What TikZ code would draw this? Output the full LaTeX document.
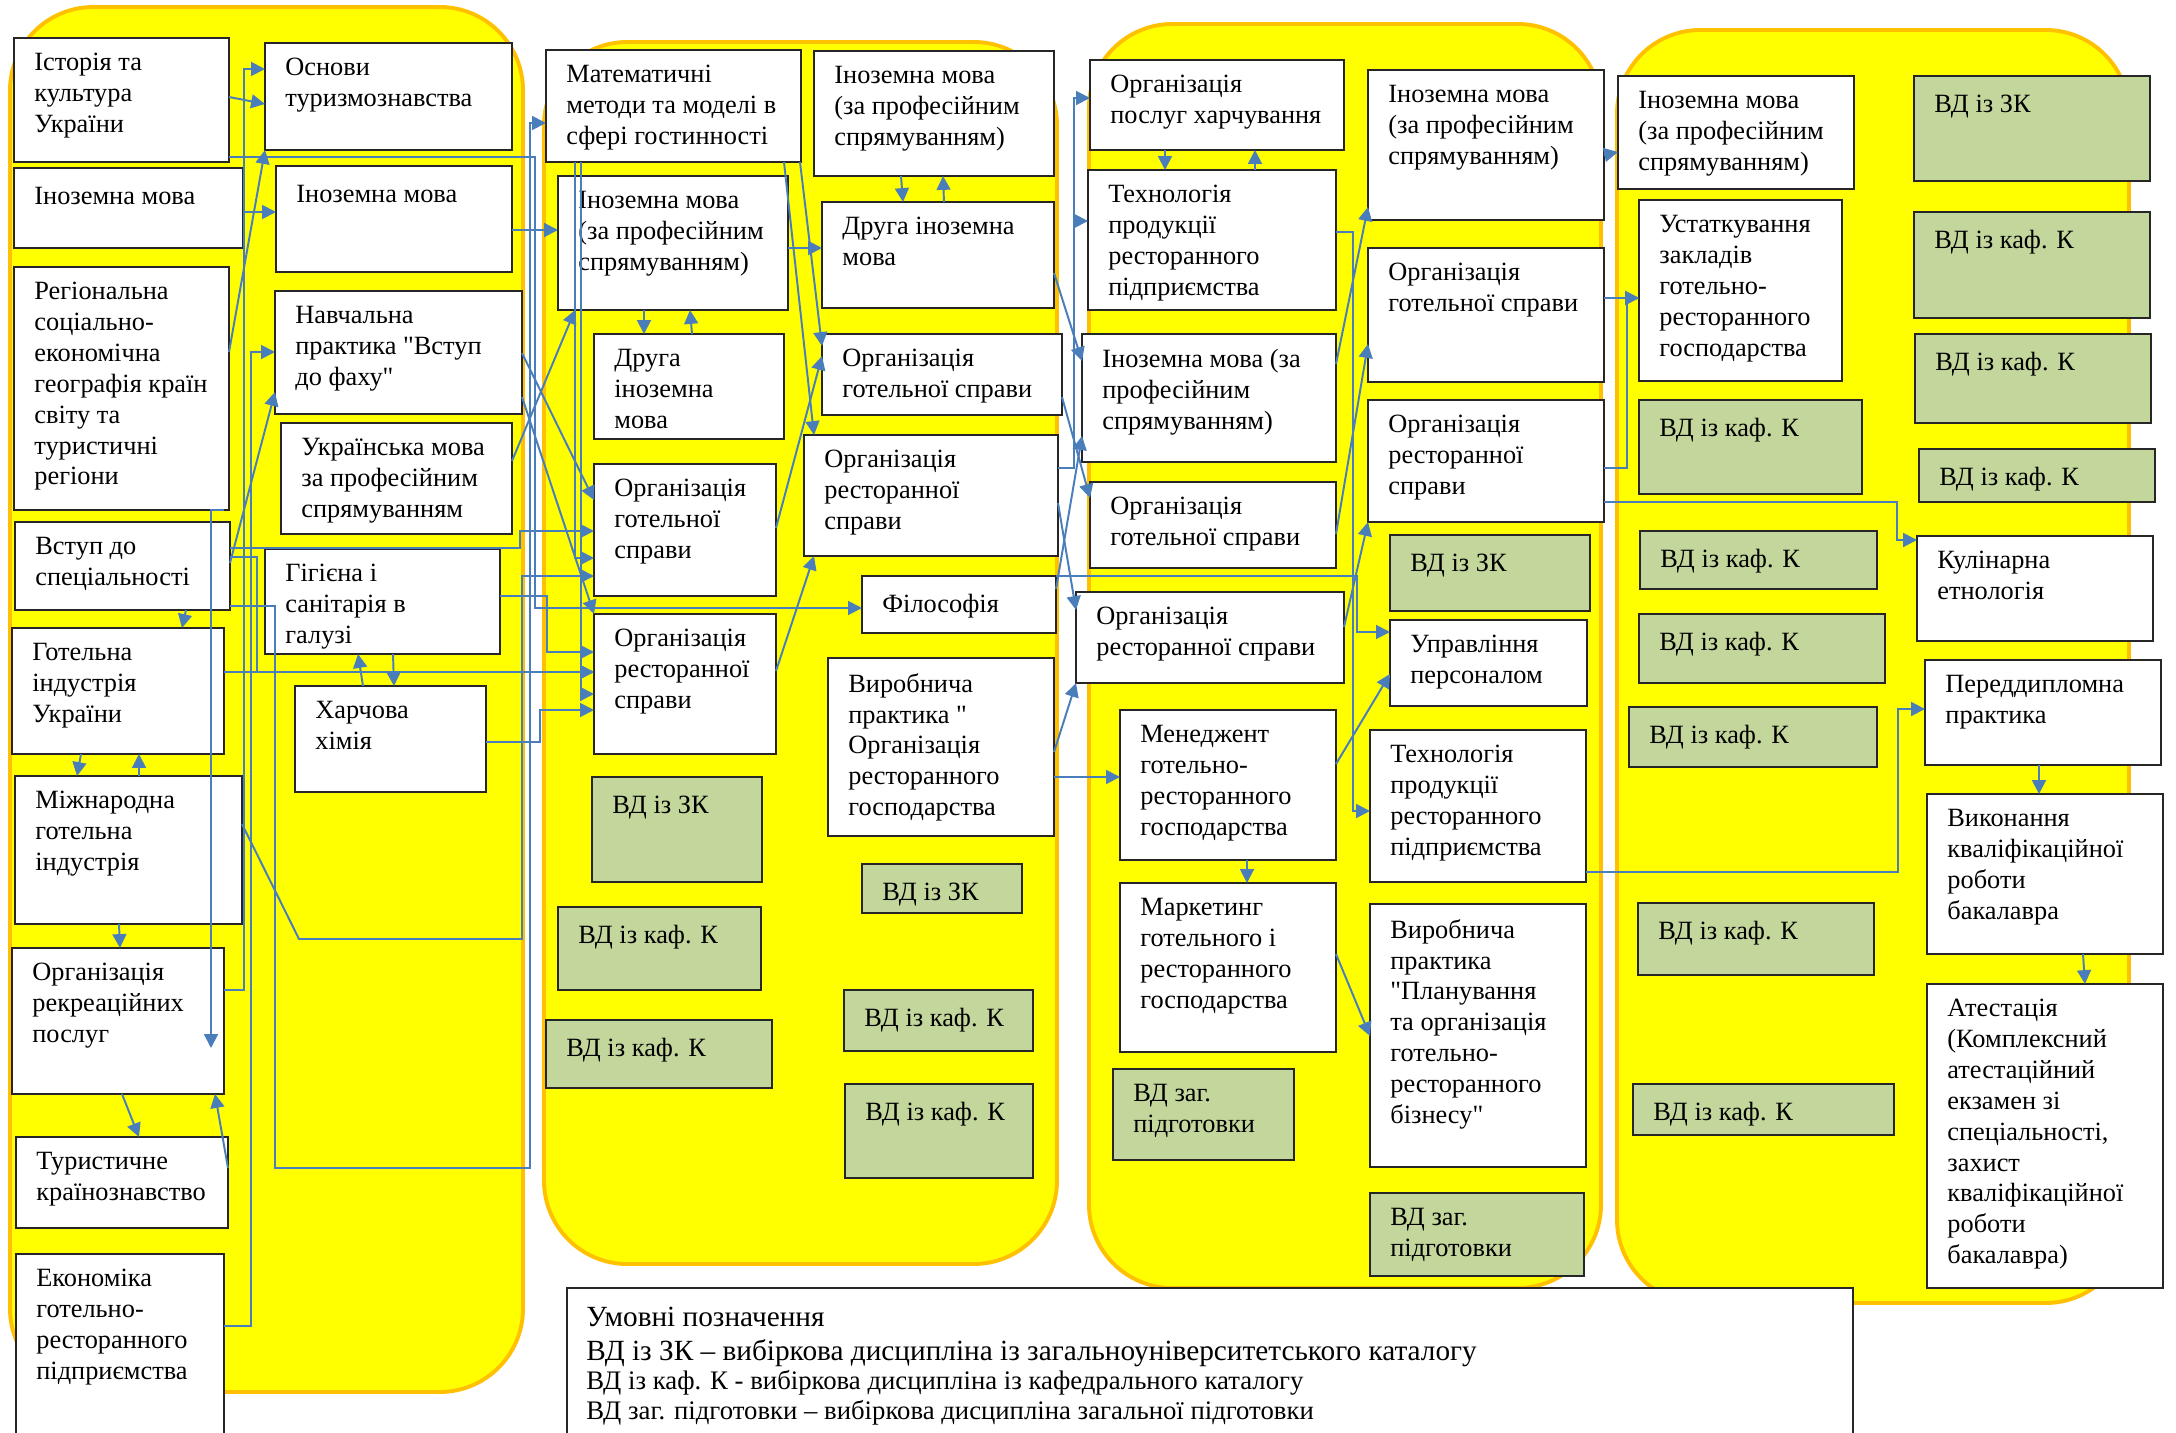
\documentclass[tikz,border=0pt]{standalone}
\usepackage{fontspec}
\setmainfont{Liberation Serif}[Ligatures=TeXOff]
\usetikzlibrary{arrows.meta}
\definecolor{panelfill}{RGB}{255,255,0}
\definecolor{panelline}{RGB}{255,192,0}
\definecolor{vdgreen}{RGB}{195,214,155}
\definecolor{linkblue}{RGB}{74,126,187}
\newcommand{\boxfont}{\fontsize{13.5}{15.8}\selectfont}
\newcommand{\legbig}{\fontsize{15}{17}\selectfont}
\newcommand{\legsmall}{\fontsize{13.7}{16}\selectfont}

\begin{document}
\begin{tikzpicture}[x=0.018cm,y=-0.018cm,
    panel/.style={fill=panelfill,draw=panelline,line width=2pt,rounded corners=1.5cm},
    plain/.style={draw=black!85,fill=white,line width=0.9pt,inner sep=0pt,outer sep=0pt},
    vd/.style={plain,fill=vdgreen},
    lbl/.style={anchor=north west,align=left,inner sep=0pt,font=\boxfont,
      execute at begin node=\strut,xshift=0.36cm,yshift=-0.27cm},
    link/.style={draw=linkblue,line width=1pt,-{Triangle[length=0.25cm,width=0.25cm]}}]
  \useasboundingbox (0,0) rectangle (2176,1433);

  % Define box macro: style, name, left, top, right, bottom, text.
  \def\bx#1#2#3#4#5#6#7{%
    \node[#1,minimum width={(#5-#3)*0.018cm},minimum height={(#6-#4)*0.018cm}] (#2) at ({(#3+#5)/2},{(#4+#6)/2}) {};
    \node[lbl] (#2-t) at (#2.north west) {#7};}

  % Semester panels.
  \draw[panel] (10,7) rectangle (523,1392);
  \draw[panel] (544,42) rectangle (1057,1264);
  \draw[panel] (1089,24) rectangle (1601,1288);
  \draw[panel] (1617,30) rectangle (2129,1303);

  % Column 1
  \bx{plain}{ist}{14}{38}{229}{162}{Історія та\\культура\\України}
  \bx{plain}{osn}{265}{43}{512}{150}{Основи\\туризмознавства}
  \bx{plain}{inl}{14}{168}{243}{248}{Іноземна мова}
  \bx{plain}{inr}{276}{166}{512}{272}{Іноземна мова}
  \bx{plain}{reg}{14}{267}{229}{510}{Регіональна\\соціально-\\економічна\\географія країн\\світу та\\туристичні\\регіони}
  \bx{plain}{nav}{275}{291}{522}{414}{Навчальна\\практика "Вступ\\до фаху"}
  \bx{plain}{ukr}{281}{423}{512}{534}{Українська мова\\за професійним\\спрямуванням}
  \bx{plain}{vst}{15}{522}{230}{610}{Вступ до\\спеціальності}
  \bx{plain}{hig}{265}{549}{500}{654}{Гігієна і\\санітарія в\\галузі}
  \bx{plain}{got}{12}{628}{224}{754}{Готельна\\індустрія\\України}
  \bx{plain}{har}{295}{686}{486}{792}{Харчова\\хімія}
  \bx{plain}{mig}{15}{776}{242}{924}{Міжнародна\\готельна\\індустрія}
  \bx{plain}{rek}{12}{948}{224}{1094}{Організація\\рекреаційних\\послуг}
  \bx{plain}{tur}{16}{1137}{228}{1228}{Туристичне\\країнознавство}
  \bx{plain}{eko}{16}{1254}{224}{1445}{Економіка\\готельно-\\ресторанного\\підприємства}

  % Column 2
  \bx{plain}{mat}{546}{50}{801}{162}{Математичні\\методи та моделі в\\сфері гостинності}
  \bx{plain}{in2l}{558}{176}{788}{310}{Іноземна мова\\(за професійним\\спрямуванням)}
  \bx{plain}{in2r}{814}{51}{1054}{176}{Іноземна мова\\(за професійним\\спрямуванням)}
  \bx{plain}{dr2r}{822}{202}{1054}{308}{Друга іноземна\\мова}
  \bx{plain}{dr2l}{594}{334}{784}{439}{Друга\\іноземна\\мова}
  \bx{plain}{hot2r}{822}{334}{1062}{415}{Організація\\готельної справи}
  \bx{plain}{hot2l}{594}{464}{776}{596}{Організація\\готельної\\справи}
  \bx{plain}{res2r}{804}{435}{1058}{556}{Організація\\ресторанної\\справи}
  \bx{plain}{fil}{862}{576}{1056}{633}{Філософія}
  \bx{plain}{res2l}{594}{614}{776}{754}{Організація\\ресторанної\\справи}
  \bx{plain}{vyr2}{828}{658}{1054}{836}{Виробнича\\практика "\\Організація\\ресторанного\\господарства}
  \bx{vd}{zk2l}{592}{777}{762}{882}{ВД із ЗК}
  \bx{vd}{zk2r}{862}{864}{1022}{913}{ВД із ЗК}
  \bx{vd}{kf2a}{558}{907}{761}{990}{ВД із каф. К}
  \bx{vd}{kf2b}{546}{1020}{772}{1088}{ВД із каф. К}
  \bx{vd}{kf2c}{844}{990}{1033}{1051}{ВД із каф. К}
  \bx{vd}{kf2d}{845}{1084}{1033}{1178}{ВД із каф. К}

  % Column 3
  \bx{plain}{pos3}{1090}{60}{1344}{150}{Організація\\послуг харчування}
  \bx{plain}{tec3l}{1088}{170}{1336}{310}{Технологія\\продукції\\ресторанного\\підприємства}
  \bx{plain}{in3l}{1082}{334}{1336}{462}{Іноземна мова (за\\професійним\\спрямуванням)}
  \bx{plain}{hot3l}{1090}{482}{1336}{568}{Організація\\готельної справи}
  \bx{plain}{res3l}{1076}{592}{1344}{683}{Організація\\ресторанної справи}
  \bx{plain}{men3}{1120}{710}{1336}{860}{Менеджент\\готельно-\\ресторанного\\господарства}
  \bx{plain}{mar3}{1120}{883}{1336}{1052}{Маркетинг\\готельного і\\ресторанного\\господарства}
  \bx{vd}{zg3l}{1113}{1069}{1294}{1160}{ВД заг.\\підготовки}
  \bx{plain}{in3r}{1368}{70}{1604}{220}{Іноземна мова\\(за професійним\\спрямуванням)}
  \bx{plain}{hot3r}{1368}{248}{1604}{382}{Організація\\готельної справи}
  \bx{plain}{res3r}{1368}{400}{1604}{522}{Організація\\ресторанної\\справи}
  \bx{vd}{zk3}{1390}{535}{1590}{611}{ВД із ЗК}
  \bx{plain}{upr3}{1390}{620}{1587}{706}{Управління\\персоналом}
  \bx{plain}{tec3r}{1370}{730}{1586}{882}{Технологія\\продукції\\ресторанного\\підприємства}
  \bx{plain}{vyr3}{1370}{904}{1586}{1167}{Виробнича\\практика\\"Планування\\та організація\\готельно-\\ресторанного\\бізнесу"}
  \bx{vd}{zg3r}{1370}{1193}{1584}{1276}{ВД заг.\\підготовки}

  % Column 4
  \bx{plain}{in4}{1618}{76}{1854}{189}{Іноземна мова\\(за професійним\\спрямуванням)}
  \bx{plain}{ust4}{1639}{200}{1842}{381}{Устаткування\\закладів\\готельно-\\ресторанного\\господарства}
  \bx{vd}{kf4a}{1639}{400}{1862}{494}{ВД із каф. К}
  \bx{vd}{kf4b}{1640}{531}{1877}{589}{ВД із каф. К}
  \bx{vd}{kf4c}{1639}{614}{1885}{683}{ВД із каф. К}
  \bx{vd}{kf4d}{1629}{707}{1877}{767}{ВД із каф. К}
  \bx{vd}{kf4e}{1638}{903}{1874}{975}{ВД із каф. К}
  \bx{vd}{kf4f}{1633}{1084}{1894}{1135}{ВД із каф. К}
  \bx{vd}{zk4}{1914}{76}{2150}{181}{ВД із ЗК}
  \bx{vd}{kf4g}{1914}{212}{2150}{318}{ВД із каф. К}
  \bx{vd}{kf4h}{1915}{334}{2151}{423}{ВД із каф. К}
  \bx{vd}{kf4i}{1919}{449}{2155}{502}{ВД із каф. К}
  \bx{plain}{kul4}{1917}{536}{2153}{641}{Кулінарна\\етнологія}
  \bx{plain}{pdp4}{1925}{660}{2161}{765}{Переддипломна\\практика}
  \bx{plain}{vyk4}{1927}{794}{2163}{954}{Виконання\\кваліфікаційної\\роботи\\бакалавра}
  \bx{plain}{ate4}{1927}{984}{2163}{1288}{Атестація\\(Комплексний\\атестаційний\\екзамен зі\\спеціальності,\\захист\\кваліфікаційної\\роботи\\бакалавра)}

  % Legend
  \node[plain,minimum width={1286*0.018cm},minimum height={157*0.018cm}] (legend) at (1210,1366.5) {};
  \node[anchor=base west,inner sep=0pt,font=\legbig] (leg1) at (586,1326) {Умовні позначення};
  \node[anchor=base west,inner sep=0pt,font=\legbig] (leg2) at (586,1360) {ВД із ЗК – вибіркова дисципліна із загальноуніверситетського каталогу};
  \node[anchor=base west,inner sep=0pt,font=\legsmall] (leg3) at (586,1389) {ВД із каф. К - вибіркова дисципліна із кафедрального каталогу};
  \node[anchor=base west,inner sep=0pt,font=\legsmall] (leg4) at (586,1419) {ВД заг. підготовки – вибіркова дисципліна загальної підготовки};

  % Links inside column 1
  \coordinate (rekin) at (211,1048);
  \draw[link] (ist.east |- 0,97) -- (osn.west |- 0,104);
  \draw[link] (rek.east |- 0,990) -- (244,990) -- (244,69) -- (osn.west |- 0,69);
  \draw[link] (inl.east |- 0,212) -- (inr.west |- 0,212);
  \draw[link] (reg.east |- 0,352) -- (osn.south west);
  \draw[link] (eko.east |- 0,1326) -- (251,1326) -- (251,352) -- (nav.west |- 0,352);
  \draw[link] (vst.east |- 0,563) -- (nav.west |- 0,392);
  \draw[link] (vst.south -| 186,0) -- (got.north -| 182,0);
  \draw[link] (got.south -| 81,0) -- (mig.north -| 77,0);
  \draw[link] (mig.north -| 139,0) -- (got.south -| 139,0);
  \draw[link] (mig.south -| 119,0) -- (rek.north -| 120,0);
  \draw[link] (rek.south -| 122,0) -- (tur.north -| 139,0);
  \draw[link] (tur.east |- 0,1168) -- (rek.south -| 215,0);
  \draw[link] (reg.south -| 224,0) -- (211,510) -- (rekin);
  \draw[link] (har.north -| 363,0) -- (hig.south -| 358,0);
  \draw[link] (hig.south -| 393,0) -- (har.north -| 394,0);

  % Links from column 1 to column 2
  \draw[link] (mig.east |- 0,824) -- (299,939) -- (522,939) -- (522,576) -- (hot2l.west |- 0,576);
  \draw[link] (hig.east |- 0,596) -- (547,596) -- (547,652) -- (res2l.west |- 0,652);
  \draw[link] (har.east |- 0,742) -- (540,742) -- (540,710) -- (res2l.west |- 0,710);
  \draw[link] (got.east |- 0,672) -- (res2l.west |- 0,672);
  \draw[link] (vst.east |- 0,557) -- (257,557) -- (257,672) -- (res2l.west |- 0,672);
  \draw[link] (vst.east |- 0,548) -- (520,548) -- (520,531) -- (hot2l.west |- 0,531);
  \draw[link] (vst.east |- 0,606) -- (275,606) -- (275,1168) -- (530,1168) -- (530,123) -- (mat.west |- 0,123);
  \draw[link] (ist.east |- 0,157) -- (535,157) -- (535,608) -- (fil.west |- 0,608);
  \draw[link] (inr.east |- 0,230) -- (in2l.west |- 0,230);
  \draw[link] (ukr.east |- 0,461) -- (in2l.south -| 575,0);
  \draw[link] (nav.east |- 0,353) -- (hot2l.west |- 0,500);
  \draw[link] (nav.east |- 0,397) -- (res2l.north west);

  % Links inside column 2
  \draw[link] (mat.south -| 575,0) -- (575,558) -- (hot2l.west |- 0,558);
  \draw[link] (mat.south -| 581,0) -- (581,694) -- (res2l.west |- 0,694);
  \draw[link] (in2l.south -| 644,0) -- (dr2l.north -| 644,0);
  \draw[link] (dr2l.north -| 692,0) -- (in2l.south -| 690,0);
  \draw[link] (in2l.east |- 0,248) -- (dr2r.west |- 0,248);
  \draw[link] (in2r.south -| 901,0) -- (dr2r.north -| 903,0);
  \draw[link] (dr2r.north -| 944,0) -- (in2r.south -| 943,0);
  \draw[link] (mat.south -| 800,0) -- (hot2r.west |- 0,346);
  \draw[link] (mat.south -| 784,0) -- (res2r.north -| 814,0);
  \draw[link] (hot2l.east |- 0,528) -- (hot2r.west |- 0,356);
  \draw[link] (res2l.east |- 0,671) -- (res2r.south -| 814,0);

  % Links from column 2 to column 3
  \draw[link] (vyr2.east |- 0,752) -- (res3l.south west);
  \draw[link] (vyr2.east |- 0,777) -- (men3.west |- 0,777);
  \draw[link] (dr2r.east |- 0,273) -- (in3l.west |- 0,361);
  \draw[link] (hot2r.east |- 0,397) -- (hot3l.west |- 0,498);
  \draw[link] (res2r.east |- 0,503) -- (res3l.west |- 0,610);
  \draw[link] (fil.east |- 0,589) -- (in3l.west |- 0,436);
  \draw[link] (res2r.east |- 0,468) -- (1074,468) -- (1074,98) -- (pos3.west |- 0,98);
  \draw[link] (res2r.east |- 0,468) -- (1074,468) -- (1074,221) -- (tec3l.west |- 0,221);
  \draw[link] (fil.north east) -- (1357,576) -- (1357,632) -- (upr3.west |- 0,632);

  % Links inside column 3
  \draw[link] (pos3.south -| 1165,0) -- (tec3l.north -| 1165,0);
  \draw[link] (tec3l.north -| 1255,0) -- (pos3.south -| 1255,0);
  \draw[link] (tec3l.east |- 0,232) -- (1353,232) -- (1353,811) -- (tec3r.west |- 0,811);
  \draw[link] (in3l.east |- 0,364) -- (in3r.west |- 0,207);
  \draw[link] (hot3l.east |- 0,534) -- (hot3r.west |- 0,344);
  \draw[link] (res3l.east |- 0,627) -- (res3r.south west);
  \draw[link] (men3.east |- 0,764) -- (upr3.west |- 0,674);
  \draw[link] (men3.south -| 1247,0) -- (mar3.north -| 1247,0);
  \draw[link] (mar3.east |- 0,954) -- (vyr3.west |- 0,1036);

  % Links from column 3 to column 4
  \draw[link] (in3r.east |- 0,155) -- (in4.west |- 0,152);
  \draw[link] (hot3r.east |- 0,298) -- (ust4.west |- 0,298);
  \draw[link] (res3r.east |- 0,468) -- (1627,468) -- (1627,298) -- (ust4.west |- 0,298);
  \draw[link] (res3r.east |- 0,502) -- (1897,502) -- (1897,540) -- (kul4.west |- 0,540);
  \draw[link] (tec3r.east |- 0,872) -- (1898,872) -- (1898,709) -- (pdp4.west |- 0,709);
  \draw[link] (pdp4.south -| 2039,0) -- (vyk4.north -| 2039,0);
  \draw[link] (vyk4.south -| 2083,0) -- (ate4.north -| 2085,0);
\end{tikzpicture}
\end{document}
